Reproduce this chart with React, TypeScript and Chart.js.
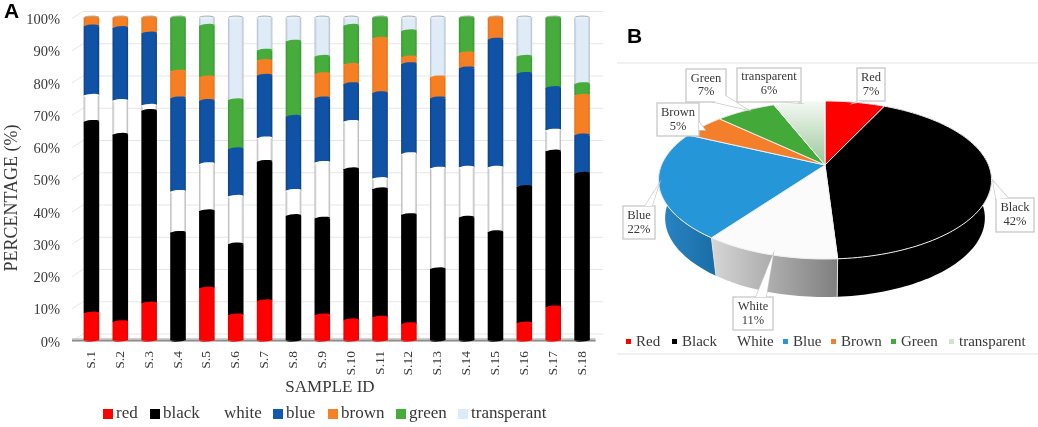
import React, { useEffect, useRef } from "react";
import { Chart, registerables } from "chart.js";

Chart.register(...registerables);

const SERIF = "'Liberation Serif', serif";
const TEXT = "#383838";

const sampleIds = ["S.1","S.2","S.3","S.4","S.5","S.6","S.7","S.8","S.9","S.10","S.11","S.12","S.13","S.14","S.15","S.16","S.17","S.18"];
const red = [8.3,5.6,11.4,0,16,7.7,12.1,0,7.7,6.2,7,5,0,0,0,5.2,10.2,0];
const black = [59.4,58.1,59.7,33.3,24,22,43.2,38.5,30,46.8,39.8,33.8,22,38,33.5,42.3,48.3,51.6];
const white = [8.1,10.5,1.6,12.7,14.6,14.8,7.3,7.8,17.3,14.7,3.2,18.9,31.2,15.5,20,0,6.5,0];
const blue = [21.5,22.6,22.4,29,19.6,14.7,19.4,23,20,11.7,26.6,27.9,21.8,30.8,39.7,35.1,13.2,11.9];
const brown = [2.7,3.2,4.9,8.3,7.3,0,4.6,0,7.5,6,16.9,2.1,6.5,4.7,6.8,0,0,12.3];
const green = [0,0,0,16.7,16,15.2,3.2,23.3,5.4,12.1,6.5,8.1,0,11,0,5.3,21.8,3.6];
const transperant = [0,0,0,0,2.5,25.6,10.2,7.4,12.1,2.5,0,4.2,18.5,0,0,12.1,0,20.6];

const pieLabels = ["Red","Black","White","Blue","Brown","Green","transparent"];
const pieValues = [7,42,11,22,5,7,6];

const barNames = ["red","black","white","blue","brown","green","transperant"];
const barValues = [red,black,white,blue,brown,green,transperant];
const barStyle = [
  { edge: "#e80000", mid: "#ff0000", cap: "#ff0000" },
  { edge: "#000000", mid: "#000000", cap: "#000000" },
  { edge: "#a9a9a9", mid: "#ffffff", cap: "#ffffff" },
  { edge: "#0d3f80", mid: "#1053a6", cap: "#1053a6" },
  { edge: "#e0701c", mid: "#f67f24", cap: "#f67f24" },
  { edge: "#379431", mid: "#46ad3c", cap: "#46ad3c" },
  { edge: "#aebac4", mid: "#dfebf7", cap: "#e8f1fa" },
];
const legendColorsA = ["#ff0000","#000000","#ffffff","#0f5bb0","#f58025","#46ad3c","#dcebf8"];
const legendXA = [103,150,211,273,328,396,458];

const pieTop = ["#fe0000","#000000","#fbfbfb","#2597d9","#f47f2a","#43aa3a","#cfe3cd"];
const legendXB = [626,672,724,783,831,891,949];
const calloutLayout = [
  { box: [857,68,885,101], ty: [78,92], tip: [[858,101],[854,103],[864,101]] },
  { box: [996,198,1034,232], ty: [208,222], tip: [[996,199],[993,181],[1008,198]] },
  { box: [733,297,773,330], ty: [307,321], tip: [[756,297],[773,255],[766,297]] },
  { box: [623,206,655,239], ty: [216,230], tip: [[645,206],[659,184],[652,206]] },
  { box: [657,103,699,136], ty: [113,127], tip: [[699,122],[705,130],[699,130]] },
  { box: [686,69,726,102], ty: [79,92], tip: [[714,102],[748,110],[726,96]] },
  { box: [737,68,801,102], ty: [77,91], tip: [[786,102],[800,103],[797,102]] },
];

const barDecor = {
  id: "barDecor",
  beforeDatasetsDraw(chart: any) {
    const { ctx, scales: { y }, chartArea } = chart;
    ctx.save();
    ctx.lineWidth = 1;
    ctx.strokeStyle = "#e6e6e6";
    y.ticks.forEach((t: any) => {
      const py = y.getPixelForValue(t.value);
      ctx.beginPath();
      ctx.moveTo(72, py + 1);
      ctx.lineTo(83, py - 6);
      ctx.lineTo(603, py - 6);
      ctx.stroke();
    });
    const fy = y.getPixelForValue(0);
    ctx.strokeStyle = "#d0d0d0";
    ctx.lineWidth = 4;
    ctx.beginPath();
    ctx.moveTo(72, fy);
    ctx.lineTo(chartArea.right - 1, fy);
    ctx.stroke();
    ctx.strokeStyle = "#8c8c8c";
    ctx.lineWidth = 1.5;
    ctx.beginPath();
    ctx.moveTo(72, fy + 0.5);
    ctx.lineTo(chartArea.right - 1, fy + 0.5);
    ctx.stroke();
    ctx.restore();
  },
  afterDatasetsDraw(chart: any) {
    const { ctx } = chart;
    ctx.save();
    barNames.forEach((_, d) => {
      const meta = chart.getDatasetMeta(d);
      meta.data.forEach((bar: any, i: number) => {
        if (!barValues[d][i]) return;
        const rx = bar.width / 2;
        ctx.fillStyle = barStyle[d].cap;
        ctx.beginPath();
        ctx.ellipse(bar.x, bar.y, rx, 1.6, -0.08, 0, Math.PI * 2);
        ctx.fill();
        if (d === 0 || barValues.slice(0, d).every((s) => !s[i])) {
          ctx.beginPath();
          ctx.ellipse(bar.x, bar.base, rx, 1.6, -0.08, 0, Math.PI);
          ctx.fill();
        }
        const sum = barValues.slice(0, d + 1).reduce((t, s) => t + s[i], 0);
        if (sum > 99.5) {
          ctx.strokeStyle = "#a8b0a8";
          ctx.lineWidth = 1;
          ctx.beginPath();
          ctx.ellipse(bar.x, bar.y, rx - 0.5, 1.4, 0, Math.PI, Math.PI * 2);
          ctx.stroke();
        }
      });
    });
    ctx.restore();
  },
  afterDraw(chart: any) {
    const { ctx } = chart;
    ctx.save();
    ctx.fillStyle = "#000";
    ctx.textBaseline = "alphabetic";
    ctx.font = "bold 21px 'Liberation Sans', sans-serif";
    ctx.fillText("A", 4, 18);
    ctx.fillStyle = TEXT;
    ctx.font = `17px ${SERIF}`;
    ctx.textAlign = "center";
    ctx.fillText("SAMPLE ID", 330, 392);
    ctx.save();
    ctx.translate(17, 198);
    ctx.rotate(-Math.PI / 2);
    ctx.font = `18px ${SERIF}`;
    ctx.fillText("PERCENTAGE (%)", 0, 0);
    ctx.restore();
    ctx.textAlign = "left";
    ctx.font = `17px ${SERIF}`;
    ctx.textBaseline = "middle";
    barNames.forEach((n, i) => {
      const x = legendXA[i];
      ctx.fillStyle = legendColorsA[i];
      ctx.fillRect(x, 409, 10, 10);
      ctx.fillStyle = TEXT;
      ctx.fillText(n, x + 13, 414);
    });
    ctx.restore();
  },
};

const OX = 610;
const CX = 825 - OX;
const CY = 165;
const RX = 163.5;
const RY = 76.15;
const PERSP = 0.19;
const DEPTH = 38;

function project(a: number, r: number) {
  const X = r * Math.sin(a);
  const Y = r * Math.cos(a);
  const w = 1 + PERSP * Y;
  return [CX + (RX * X) / w, CY - (RY * Y) / w];
}
function lower(p: number[]) {
  return [CX + (p[0] - CX) * 0.96, p[1] + DEPTH];
}

const pieDraw = {
  id: "pieDraw",
  beforeDatasetDraw(chart: any) {
    const { ctx } = chart;
    const arcs = chart.getDatasetMeta(0).data;
    ctx.save();
    const span = (el: any) => [el.startAngle + Math.PI / 2, el.endAngle + Math.PI / 2];
    const arcPts = (a0: number, a1: number) => {
      const n = Math.max(4, Math.ceil((a1 - a0) * 40));
      const pts = [];
      for (let k = 0; k <= n; k++) pts.push(project(a0 + ((a1 - a0) * k) / n, 1));
      return pts;
    };
    arcs.forEach((el: any, i: number) => {
      const [a0, a1] = span(el);
      const top = arcPts(a0, a1);
      const bot = top.map(lower).reverse();
      const xs = top.map((p) => p[0]);
      const g = ctx.createLinearGradient(Math.min(...xs), 0, Math.max(...xs), 0);
      if (i === 2) {
        g.addColorStop(0, "#d6d6d6");
        g.addColorStop(1, "#7f7f7f");
        ctx.fillStyle = g;
      } else if (i === 3) {
        g.addColorStop(0, "#2a86c6");
        g.addColorStop(1, "#1b6fa8");
        ctx.fillStyle = g;
      } else if (i === 1) {
        ctx.fillStyle = "#000";
      } else {
        ctx.fillStyle = pieTop[i];
      }
      ctx.beginPath();
      [...top, ...bot].forEach((p, k) => (k ? ctx.lineTo(p[0], p[1]) : ctx.moveTo(p[0], p[1])));
      ctx.closePath();
      ctx.fill();
    });
    ctx.strokeStyle = "#e4e4e4";
    ctx.lineWidth = 1;
    [arcs[1].endAngle, arcs[2].endAngle].forEach((e: number) => {
      const p = project(e + Math.PI / 2, 1);
      const b = lower(p);
      ctx.beginPath();
      ctx.moveTo(p[0], p[1]);
      ctx.lineTo(b[0], b[1]);
      ctx.stroke();
    });
    arcs.forEach((el: any, i: number) => {
      const [a0, a1] = span(el);
      const top = arcPts(a0, a1);
      if (i === 6) {
        const g = ctx.createLinearGradient(0, 101, 0, CY);
        g.addColorStop(0, "#f4f9f3");
        g.addColorStop(1, "#9cc89a");
        ctx.fillStyle = g;
      } else {
        ctx.fillStyle = pieTop[i];
      }
      ctx.beginPath();
      ctx.moveTo(CX, CY);
      top.forEach((p) => ctx.lineTo(p[0], p[1]));
      ctx.closePath();
      ctx.fill();
      ctx.strokeStyle = i === 6 ? "rgba(255,255,255,0.9)" : "#eeeeee";
      ctx.lineWidth = 1;
      ctx.stroke();
    });
    ctx.restore();
    return false;
  },
  afterDraw(chart: any) {
    const { ctx } = chart;
    ctx.save();
    ctx.translate(-OX, 0);
    ctx.strokeStyle = "#ececec";
    ctx.lineWidth = 1.5;
    [63, 354].forEach((y) => {
      ctx.beginPath();
      ctx.moveTo(617, y);
      ctx.lineTo(1038, y);
      ctx.stroke();
    });
    ctx.fillStyle = "#000";
    ctx.font = "bold 21px 'Liberation Sans', sans-serif";
    ctx.textBaseline = "alphabetic";
    ctx.fillText("B", 627, 43);

    ctx.font = `12.5px ${SERIF}`;
    ctx.textBaseline = "middle";
    ctx.textAlign = "center";
    pieLabels.forEach((name, i) => {
      const { box, ty, tip } = calloutLayout[i];
      const [x0, y0, x1, y1] = box;
      ctx.strokeStyle = "#c8c8c8";
      ctx.lineWidth = 1.3;
      ctx.fillStyle = "#ffffff";
      ctx.beginPath();
      tip.forEach((p, k) => (k ? ctx.lineTo(p[0], p[1]) : ctx.moveTo(p[0], p[1])));
      ctx.closePath();
      ctx.fill();
      ctx.stroke();
      ctx.fillRect(x0, y0, x1 - x0, y1 - y0);
      ctx.strokeRect(x0, y0, x1 - x0, y1 - y0);
      ctx.fillStyle = "#ffffff";
      ctx.beginPath();
      tip.forEach((p, k) => (k ? ctx.lineTo(p[0], p[1]) : ctx.moveTo(p[0], p[1])));
      ctx.closePath();
      ctx.fill();
      ctx.fillStyle = TEXT;
      ctx.fillText(name, (x0 + x1) / 2, ty[0]);
      ctx.fillText(`${pieValues[i]}%`, (x0 + x1) / 2, ty[1]);
    });

    ctx.textAlign = "left";
    ctx.font = `15px ${SERIF}`;
    pieLabels.forEach((name, i) => {
      const x = legendXB[i];
      const color = i === 6 ? "#cfe3cd" : i === 2 ? "#ffffff" : pieTop[i];
      ctx.fillStyle = color;
      ctx.fillRect(x, 339, 5, 5);
      ctx.fillStyle = TEXT;
      ctx.fillText(name, x + 10 + (i === 2 ? 3 : 0), 342);
    });
    ctx.restore();
  },
};

export default function App() {
  const barRef = useRef<HTMLCanvasElement>(null);
  const pieRef = useRef<HTMLCanvasElement>(null);

  useEffect(() => {
    const bars = new Chart(barRef.current as any, {
      type: "bar",
      data: {
        labels: sampleIds,
        datasets: barNames.map((name, d) => ({
          label: name,
          data: barValues[d],
          borderWidth: 0,
          backgroundColor: (c: any) => {
            const chart = c.chart;
            if (!chart.chartArea || c.dataIndex === undefined) return barStyle[d].mid;
            const x = chart.scales.x.getPixelForValue(c.dataIndex);
            const g = chart.ctx.createLinearGradient(x - 8, 0, x + 8, 0);
            g.addColorStop(0, barStyle[d].edge);
            g.addColorStop(0.16, barStyle[d].mid);
            g.addColorStop(0.84, barStyle[d].mid);
            g.addColorStop(1, barStyle[d].edge);
            return g;
          },
        })),
      },
      options: {
        responsive: false,
        animation: false,
        layout: { padding: { top: 17.5, right: 13.5, left: 0, bottom: 0 } },
        plugins: { legend: { display: false }, tooltip: { enabled: false } },
        datasets: { bar: { barPercentage: 0.54, categoryPercentage: 1 } },
        scales: {
          x: {
            stacked: true,
            grid: { display: false, drawTicks: false },
            border: { display: false },
            afterFit: (s: any) => { s.height = 87; s.paddingLeft = 0; s.paddingRight = 0; },
            ticks: { autoSkip: false, minRotation: 90, maxRotation: 90, padding: 11, color: TEXT, font: { family: SERIF, size: 13.5 } },
          },
          y: {
            stacked: true,
            min: 0,
            max: 100,
            grid: { display: false, drawTicks: false },
            border: { display: false },
            afterFit: (s: any) => { s.width = 77; s.paddingTop = 0; s.paddingBottom = 0; },
            ticks: { stepSize: 10, padding: 17, color: TEXT, font: { family: SERIF, size: 14.5, lineHeight: 0.4 }, callback: (v: any) => ["", `${v}%`] },
          },
        },
      },
      plugins: [barDecor],
    } as any);

    const pie = new Chart(pieRef.current as any, {
      type: "pie",
      data: {
        labels: pieLabels,
        datasets: [{ data: pieValues, backgroundColor: pieTop, borderWidth: 0 }],
      },
      options: {
        responsive: false,
        animation: false,
        plugins: { legend: { display: false }, tooltip: { enabled: false } },
      },
      plugins: [pieDraw],
    } as any);

    return () => {
      bars.destroy();
      pie.destroy();
    };
  }, []);

  return (
    <div style={{ position: "fixed", left: 0, top: 0, width: 1038, height: 427, background: "#fff", overflow: "hidden", filter: "blur(0.4px)" }}>
      <canvas ref={barRef} width={610} height={427} style={{ position: "absolute", left: 0, top: 0, width: 610, height: 427 }} />
      <canvas ref={pieRef} width={428} height={427} style={{ position: "absolute", left: OX, top: 0, width: 428, height: 427 }} />
    </div>
  );
}
